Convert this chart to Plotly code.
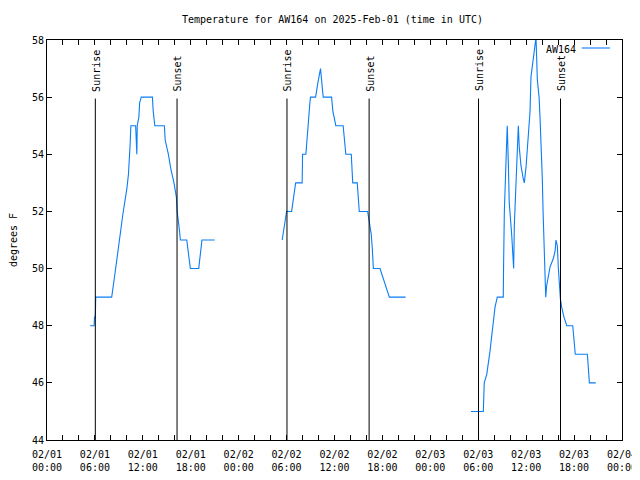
import pandas as pd
import plotly.graph_objects as go

# ---- data ----
day1_date = "2025-02-01"
day1_times = ["05:24", "05:54", "05:57", "06:03", "06:06", "08:06", "08:30", "09:00", "09:30",
              "10:00", "10:12", "10:24", "10:30", "11:06", "11:09", "11:15", "11:18", "11:30",
              "11:36", "11:48", "13:12", "13:18", "13:30", "14:42", "14:48", "15:12", "15:30",
              "15:54", "16:12", "16:18", "16:36", "16:42", "17:30", "17:42", "17:57", "19:00",
              "19:12", "19:24", "21:00"]
day1_temps = [48.0, 48.0, 48.3, 48.3, 49.0, 49.0, 49.8, 50.9, 51.9,
              52.8, 53.3, 54.3, 55.0, 55.0, 54.3, 54.0, 55.0, 55.3,
              55.8, 56.0, 56.0, 55.5, 55.0, 55.0, 54.5, 54.0, 53.5,
              53.0, 52.5, 52.0, 51.3, 51.0, 51.0, 50.5, 50.0, 50.0,
              50.5, 51.0, 51.0]

day2_date = "2025-02-02"
day2_times = ["05:27", "06:00", "06:38", "07:08", "07:57", "08:00", "08:25", "08:32", "08:40",
              "08:48", "08:55", "09:00", "09:38", "09:55", "10:15", "10:35", "11:38", "11:48",
              "12:10", "13:05", "13:18", "13:25", "14:06", "14:17", "14:51", "15:06", "16:09",
              "16:23", "16:36", "16:44", "16:52", "17:42", "18:12", "18:52", "20:54"]
day2_temps = [51.0, 52.0, 52.0, 53.0, 53.0, 54.0, 54.0, 54.5, 55.1,
              55.6, 55.8, 56.0, 56.0, 56.5, 57.0, 56.0, 56.0, 55.5,
              55.0, 55.0, 54.3, 54.0, 54.0, 53.0, 53.0, 52.0, 52.0,
              51.6, 51.2, 50.7, 50.0, 50.0, 49.6, 49.0, 49.0]

day3_date = "2025-02-03"
day3_times = ["05:05", "06:38", "06:45", "07:04", "07:28", "07:53", "08:06", "08:23", "09:08",
              "09:10", "09:16", "09:34", "09:38", "09:46", "09:53", "10:11", "10:19", "10:26",
              "10:31", "10:41", "10:49", "10:53", "11:01", "11:08", "11:21", "11:38", "11:46",
              "11:59", "12:08", "12:16", "12:29", "12:36", "12:54", "13:06", "13:14", "13:24",
              "13:37", "13:44", "13:52", "14:01", "14:07", "14:14", "14:21", "14:27", "14:34",
              "14:46", "14:59", "15:24", "15:37", "15:44", "15:54", "16:02", "16:09", "16:17",
              "16:27", "16:44", "17:05", "17:50", "18:09", "19:40", "19:55", "20:43"]
day3_temps = [45.0, 45.0, 46.0, 46.3, 47.1, 48.1, 48.65, 49.0, 49.0,
              50.0, 52.0, 54.5, 55.0, 53.7, 52.3, 51.2, 50.5, 50.0,
              51.5, 52.5, 53.5, 54.25, 55.0, 54.25, 53.6, 53.15, 53.0,
              53.55, 54.25, 54.9, 55.5, 56.7, 57.46, 57.87, 58.1, 56.6,
              56.0, 55.3, 54.4, 53.2, 52.0, 50.75, 49.6, 49.0, 49.4,
              49.75, 50.05, 50.35, 50.6, 51.0, 50.8, 50.0, 49.35, 48.95,
              48.65, 48.3, 48.0, 48.0, 47.0, 47.0, 46.0, 46.0]

sunrise_times = ["2025-02-01 06:03", "2025-02-02 06:03", "2025-02-03 06:02"]
sunset_times = ["2025-02-01 16:17", "2025-02-02 16:20", "2025-02-03 16:18"]

station = "AW164"
title_text = "Temperature for AW164 on 2025-Feb-01 (time in UTC)"
x_range = ["2025-02-01 00:00", "2025-02-04 00:00"]
y_range = [44, 58]

# ---- build series (gaps between days) ----
xs, ys = [], []
for d, ts, vs in [(day1_date, day1_times, day1_temps),
                  (day2_date, day2_times, day2_temps),
                  (day3_date, day3_times, day3_temps)]:
    xs += list(pd.to_datetime([f"{d} {t}" for t in ts]))
    ys += vs
    xs.append(None)
    ys.append(None)

FONT = "DejaVu Sans Mono"
BLUE = "#0a7df7"

fig = go.Figure()
fig.add_trace(go.Scatter(x=xs, y=ys, mode="lines", name=station,
                         line=dict(color=BLUE, width=1.1), connectgaps=False,
                         showlegend=False))

shapes = []
annos = []
for label, times in [("Sunrise", sunrise_times), ("Sunset", sunset_times)]:
    for t in times:
        shapes.append(dict(type="line", xref="x", yref="y", x0=t, x1=t,
                           y0=y_range[0], y1=55.95, line=dict(color="black", width=1)))
        annos.append(dict(x=t, y=55.95, xref="x", yref="y", text=label, showarrow=False,
                          textangle=-90, xanchor="center", yanchor="bottom", yshift=5, xshift=1,
                          font=dict(family=FONT, size=10, color="black")))

# legend drawn gnuplot-style: text then line sample
annos.append(dict(x=0.923, y=0.976, xref="paper", yref="paper", text=station, showarrow=False,
                  xanchor="right", yanchor="middle", font=dict(family=FONT, size=10, color="black")))
shapes.append(dict(type="line", xref="paper", yref="paper", x0=0.93, x1=0.979, y0=0.98, y1=0.98,
                   line=dict(color=BLUE, width=1.1)))

# the page body has an 8px margin, so the figure is made smaller to avoid scrolling
fig.update_layout(
    width=632, height=464,
    margin=dict(l=39, r=18, t=32, b=32, autoexpand=False),
    paper_bgcolor="white", plot_bgcolor="white",
    font=dict(family=FONT, size=10, color="black"),
    title=dict(text=title_text, x=0.5134, xanchor="center", y=1 - 11 / 464, yanchor="middle",
               yref="container", automargin=False, font=dict(family=FONT, size=10, color="black")),
    shapes=shapes, annotations=annos,
    xaxis=dict(type="date", range=x_range, dtick=6 * 3600 * 1000, tick0="2025-02-01",
               tickformat="%m/%d<br>%H:%M", ticks="inside", ticklen=5, tickcolor="black",
               showline=True, linecolor="black", linewidth=1, mirror="ticks",
               showgrid=False, zeroline=False, automargin=False, ticklabelstandoff=5,
               ticklabeloverflow="allow",
               minor=dict(dtick=2 * 3600 * 1000, ticks="inside", ticklen=5, tickcolor="black",
                          showgrid=False),
               tickfont=dict(family=FONT, size=10)),
    yaxis=dict(range=y_range, dtick=2, ticks="inside", ticklen=5, tickcolor="black",
               showline=True, linecolor="black", linewidth=1, mirror="ticks",
               showgrid=False, zeroline=False, automargin=False,
               title=dict(text="degrees F", font=dict(family=FONT, size=10), standoff=17),
               tickfont=dict(family=FONT, size=10)),
)

fig.write_html("out.html")
